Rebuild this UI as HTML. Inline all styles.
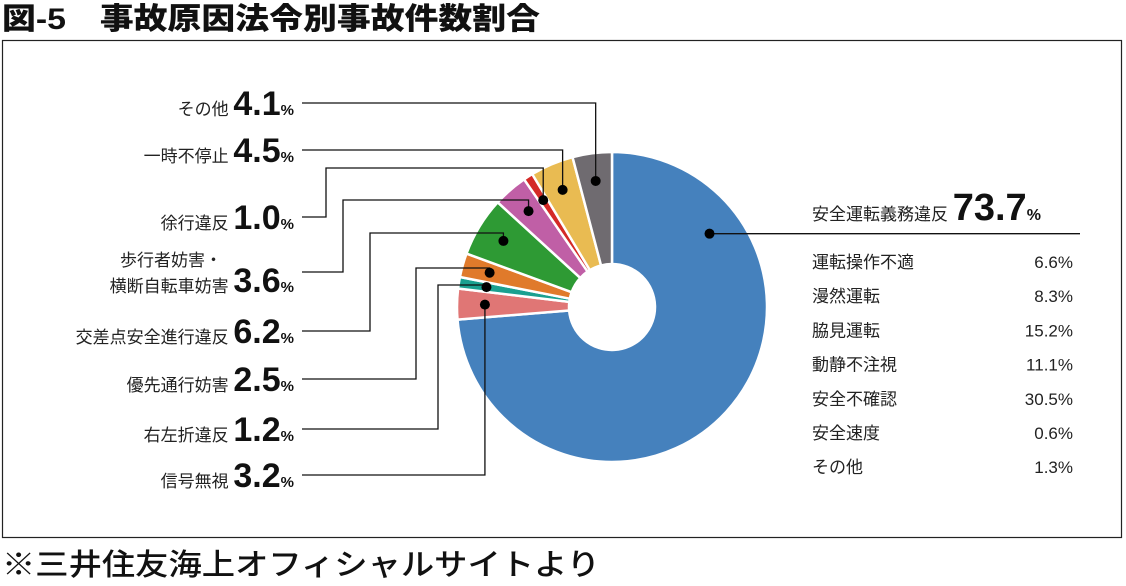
<!DOCTYPE html>
<html><head><meta charset="utf-8"><style>
body{margin:0;width:1126px;height:581px;background:#fff;overflow:hidden;font-family:"Liberation Sans","Noto Sans CJK JP",sans-serif;}
</style></head><body>
<svg width="1126" height="581" xmlns="http://www.w3.org/2000/svg" font-family="Liberation Sans, Noto Sans CJK JP, sans-serif">
<text x="2" y="29" font-size="30" font-weight="900" fill="#111" textLength="538" lengthAdjust="spacingAndGlyphs">図-5　事故原因法令別事故件数割合</text>
<rect x="2.5" y="40.5" width="1119" height="497" fill="none" stroke="#222" stroke-width="1.2"/>
<g id="pie"></g>
<g id="labels"></g>
<g id="legend"></g>
<text x="2" y="575" font-size="30" font-weight="500" fill="#111" textLength="598" lengthAdjust="spacingAndGlyphs">※三井住友海上オフィシャルサイトより</text>
</svg>
<script>
const categories=["安全運転義務違反","信号無視","右左折違反","優先通行妨害","交差点安全進行違反","歩行者妨害・横断自転車妨害","徐行違反","一時不停止","その他"];
const values=[73.7,3.2,1.2,2.5,6.2,3.6,1.0,4.5,4.1];
const colors=["#4581bd","#e07675","#1aa090","#e07a2b","#2e9a34","#c05fa6","#d42a27","#e9bb52","#6f6b70"];
const subNames=["運転操作不適","漫然運転","脇見運転","動静不注視","安全不確認","安全速度","その他"];
const subValues=[6.6,8.3,15.2,11.1,30.5,0.6,1.3];
const NS="http://www.w3.org/2000/svg";
const cx=612,cy=307,R=155,r=43;
const total=values.reduce((a,b)=>a+b,0);
function pt(f,rad){const a=f*2*Math.PI-Math.PI/2;return [cx+rad*Math.cos(a),cy+rad*Math.sin(a)];}
function mk(tag,attrs,parent){const e=document.createElementNS(NS,tag);for(const k in attrs)e.setAttribute(k,attrs[k]);parent.appendChild(e);return e;}
const pie=document.getElementById('pie');
let acc=0;const mids=[];
values.forEach((v,i)=>{
  const f0=acc/total,f1=(acc+v)/total;acc+=v;mids.push((f0+f1)/2);
  const [x0,y0]=pt(f0,R),[x1,y1]=pt(f1,R),[x2,y2]=pt(f1,r),[x3,y3]=pt(f0,r);
  const large=(f1-f0)>0.5?1:0;
  const p=mk('path',{d:`M${x0},${y0}A${R},${R} 0 ${large} 1 ${x1},${y1}L${x2},${y2}A${r},${r} 0 ${large} 0 ${x3},${y3}Z`,fill:colors[i],stroke:'#fff','stroke-width':2.5},pie);
  
  
});
const lab=document.getElementById('labels');
const layout=[[8,108,594,null],[7,155,556,null],[6,222,326,168],[5,277,343,200],[4,336,370,233],[3,384,416,268],[2,434,438,285],[1,480,466,null]];
function pct(t,v,big,small){
  mk('tspan',{'font-size':big,'font-weight':'bold',fill:'#111','font-family':'Liberation Sans Narrow, Liberation Sans, sans-serif'},t).textContent=v.toFixed(1);
  mk('tspan',{'font-size':small,'font-weight':'bold',fill:'#111'},t).textContent='%';
}
layout.forEach(([i,ty,cxl,turnY])=>{
  const [dx,dy]=pt(mids[i],R*0.82);
  let d;
  if(turnY===null){ d=`M302,${ty-5}H${dx}V${dy}`; }
  else d=`M302,${ty-5}H${cxl}V${turnY}H${dx}V${dy}`;
  const l=mk('path',{d:d,fill:'none',stroke:'#111','stroke-width':1.3},lab);
  
  
  const c=mk('circle',{cx:dx,cy:dy,r:5,fill:'#000'},lab);
  
  
  const t=mk('text',{x:294,y:ty+7,'text-anchor':'end',fill:'#222'},lab);
  
  
  if(i===5){
    const t2=mk('text',{x:222,y:ty-11,'text-anchor':'end','font-size':17,fill:'#222'},lab);
    
    
    t2.textContent='歩行者妨害・';
    mk('tspan',{'font-size':17},t).textContent='横断自転車妨害 ';
    t.setAttribute('y',ty+15);
  } else mk('tspan',{'font-size':17},t).textContent=categories[i]+' ';
  pct(t,values[i],34,15);
});
// main slice leader
const [bx,by]=pt(values[0]/total*0.2,122);
const bl=mk('path',{d:`M${bx},${by}H1080`,fill:'none',stroke:'#111','stroke-width':1.3},lab);


const bc=mk('circle',{cx:bx,cy:by,r:5,fill:'#000'},lab);


const lg=document.getElementById('legend');
const tt=mk('text',{x:812,y:220,fill:'#222'},lg);


mk('tspan',{'font-size':17},tt).textContent=categories[0]+' ';
pct(tt,values[0],38,16);
subNames.forEach((n,k)=>{
  const y=268+k*34.2;
  const a=mk('text',{x:812,y:y,'font-size':17,fill:'#222'},lg);
  
  
  a.textContent=n;
  const b=mk('text',{x:1073,y:y,'font-size':17,fill:'#222','text-anchor':'end'},lg);
  
  
  b.textContent=subValues[k].toFixed(1)+'%';
});
</script>
</body></html>
